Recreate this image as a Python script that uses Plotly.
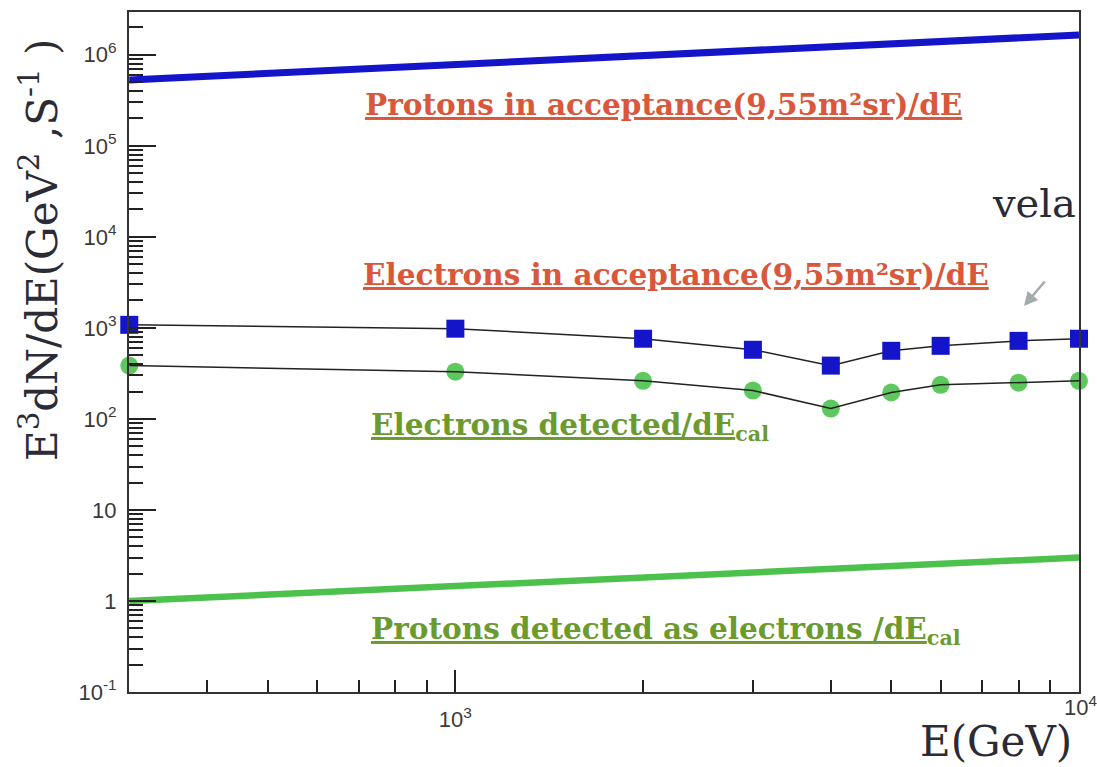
import math
import plotly.graph_objects as go

# Simulated energies (GeV) and rates E^3 dN/dE
energy_pts = [300, 1000, 2000, 3000, 4000, 5000, 6000, 8000, 10000]
electrons_acceptance = [1080, 980, 760, 575, 385, 560, 635, 720, 760]
electrons_detected = [385, 330, 262, 205, 130, 195, 237, 250, 262]

# Broad spectra drawn as thick bands
energy_band = [300, 1000, 3000, 10000]
protons_acceptance = [5.3e5, 7.85e5, 1.12e6, 1.65e6]
protons_detected = [1.0, 1.46, 2.05, 3.0]

y_tickvals = [0.1, 1, 10, 100, 1e3, 1e4, 1e5, 1e6]
y_ticktext = ["10<sup>-1</sup>", "1", "10", "10<sup>2</sup>", "10<sup>3</sup>",
              "10<sup>4</sup>", "10<sup>5</sup>", "10<sup>6</sup>"]
x_tickvals = [1000, 10000]
x_ticktext = ["10<sup>3</sup>", ""]
x_edge_label = "10<sup>4</sup>"

W, H = 1097, 767
L, R, T, B = 129, 1079, 12, 692


def px(x):
    return (x - L) / (R - L)


def py(y):
    return (B - y) / (B - T)


BLUE = "#1414c8"
GREEN = "#4cc24c"
RED_TXT = "#d9573b"
GREEN_TXT = "#6b9a2f"
DARK = "#2b2b35"
TICK_FONT = dict(family="Liberation Sans, Arial, sans-serif", size=22, color="#3a3a3a")

fig = go.Figure()

fig.add_trace(go.Scatter(x=energy_band, y=protons_acceptance, mode="lines",
                         line=dict(color=BLUE, width=7), hoverinfo="skip"))
fig.add_trace(go.Scatter(x=energy_band, y=protons_detected, mode="lines",
                         line=dict(color=GREEN, width=6.5), hoverinfo="skip"))

# Electrons in acceptance: line under the square markers
fig.add_trace(go.Scatter(x=energy_pts, y=electrons_acceptance, mode="lines",
                         line=dict(color="#222222", width=1.5)))
fig.add_trace(go.Scatter(x=energy_pts, y=electrons_acceptance, mode="markers",
                         marker=dict(symbol="square", size=18, color=BLUE),
                         cliponaxis=False))

# Electrons detected: round markers with the line over them
fig.add_trace(go.Scatter(x=energy_pts, y=electrons_detected, mode="markers",
                         marker=dict(symbol="circle", size=18, color=GREEN, opacity=0.9),
                         cliponaxis=False))
fig.add_trace(go.Scatter(x=energy_pts, y=electrons_detected, mode="lines",
                         line=dict(color="#222222", width=1.5)))

axis_common = dict(
    showgrid=False, zeroline=False, showline=True, linecolor="#333333",
    linewidth=2, mirror=True, ticks="inside", tickcolor="#222222",
    tickwidth=1.5, automargin=False, tickfont=TICK_FONT,
)

fig.update_xaxes(type="log", range=[math.log10(299.7), 4], tickvals=x_tickvals,
                 ticktext=x_ticktext, ticklen=22, ticklabelstandoff=7,
                 minor=dict(ticks="inside", ticklen=12, dtick="D1",
                            tickcolor="#222222", tickwidth=1.5, showgrid=False),
                 **axis_common)
fig.update_yaxes(type="log", range=[-1, 6.47], tickvals=y_tickvals,
                 ticktext=y_ticktext, ticklen=27, ticklabelstandoff=6,
                 minor=dict(ticks="inside", ticklen=14, dtick="D1",
                            tickcolor="#222222", tickwidth=1.5, showgrid=False),
                 **axis_common)

fig.add_annotation(text=x_edge_label, x=px(1080), y=py(706), xref="paper", yref="paper",
                   showarrow=False, xanchor="center", yanchor="middle", font=TICK_FONT)

SERIF = "DejaVu Serif, Georgia, serif"
labels = [
    ("<b><u>Protons in acceptance(9,55m²sr)/dE</u></b>", 663, 105, RED_TXT),
    ("<b><u>Electrons in acceptance(9,55m²sr)/dE</u></b>", 676, 274, RED_TXT),
    ("<b><u>Electrons detected/dE</u><sub>cal</sub></b>", 570, 426, GREEN_TXT),
    ("<b><u>Protons detected as electrons /dE</u><sub>cal</sub></b>", 666, 630, GREEN_TXT),
]
for text, x, y, col in labels:
    fig.add_annotation(text=text, x=px(x), y=py(y), xref="paper", yref="paper",
                       showarrow=False, xanchor="center", yanchor="middle",
                       font=dict(family=SERIF, size=29.5, color=col))

fig.add_annotation(text="vela", x=px(1034), y=py(203), xref="paper", yref="paper",
                   showarrow=False, xanchor="center", yanchor="middle",
                   font=dict(family=SERIF, size=40, color=DARK))
fig.add_annotation(text="", x=px(1024), y=py(306), xref="paper", yref="paper",
                   ax=22, ay=-26, showarrow=True, arrowhead=2, arrowsize=1.1,
                   arrowwidth=2.5, arrowcolor="#a3abab")

fig.add_annotation(text="E<sup>3</sup>dN/dE(GeV<sup>2</sup> ,S<sup>-1</sup> )",
                   x=px(40), y=py(250), xref="paper", yref="paper",
                   showarrow=False, textangle=-90, xanchor="center", yanchor="middle",
                   font=dict(family=SERIF, size=42, color=DARK))
fig.add_annotation(text="E(GeV)", x=px(996), y=py(741), xref="paper", yref="paper",
                   showarrow=False, xanchor="center", yanchor="middle",
                   font=dict(family=SERIF, size=42, color=DARK))

fig.update_layout(width=W, height=H, showlegend=False,
                  margin=dict(l=L, r=W - R, t=T, b=H - B, autoexpand=False),
                  paper_bgcolor="white", plot_bgcolor="white")

fig.write_html("out.html")
